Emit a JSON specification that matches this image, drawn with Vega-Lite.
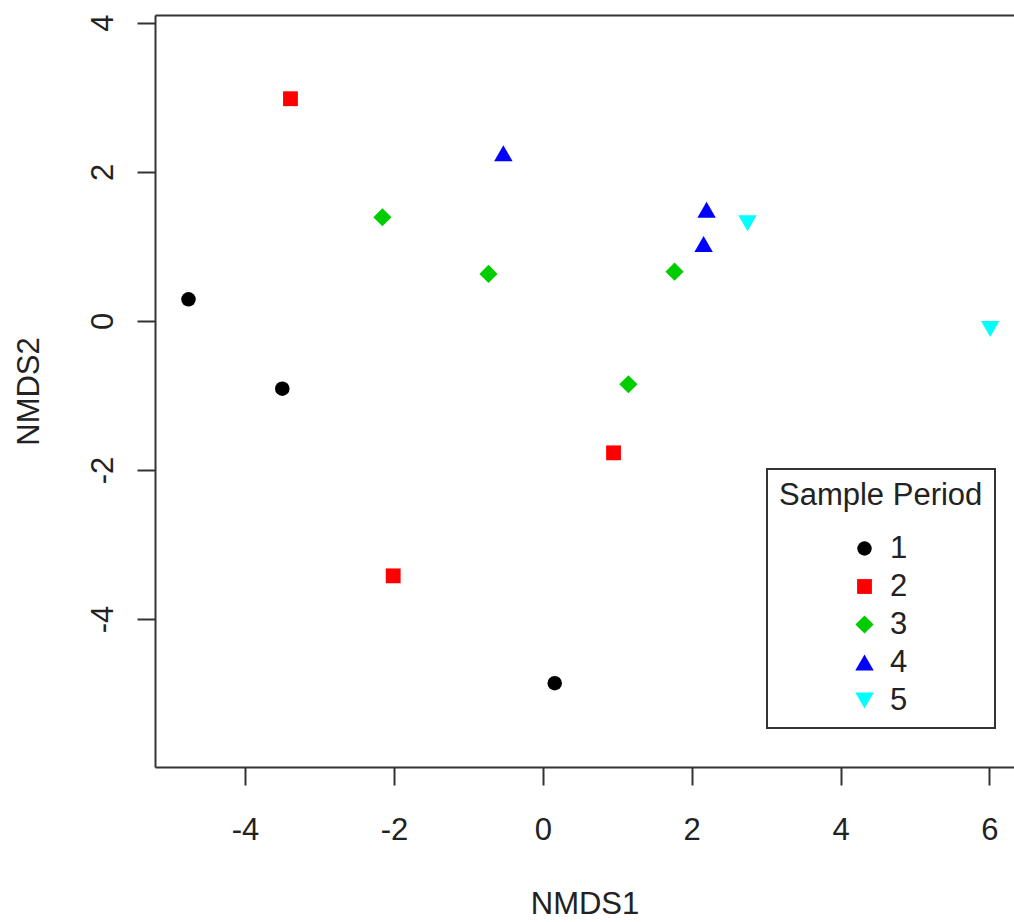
{
  "$schema": "https://vega.github.io/schema/vega-lite/v6.json",
  "width": 859,
  "height": 752,
  "autosize": "none",
  "padding": {"left": 155, "top": 15, "right": 0, "bottom": 155},
  "background": "white",
  "config": {
    "view": {"stroke": null},
    "font": "Liberation Sans",
    "axis": {
      "domainColor": "#333333",
      "domainWidth": 2,
      "tickColor": "#333333",
      "tickWidth": 2,
      "tickSize": 18,
      "grid": false,
      "labelFont": "Liberation Sans",
      "labelFontSize": 31,
      "labelColor": "#222222",
      "titleFont": "Liberation Sans",
      "titleFontSize": 31,
      "titleFontWeight": "normal",
      "titleColor": "#222222"
    },
    "legend": {
      "strokeWidth": 2
    }
  },
  "data": {
    "values": [
      {"NMDS1": -4.76, "NMDS2": 0.29, "period": "1"},
      {"NMDS1": -3.50, "NMDS2": -0.91, "period": "1"},
      {"NMDS1": 0.16, "NMDS2": -4.86, "period": "1"},
      {"NMDS1": -3.39, "NMDS2": 2.98, "period": "2"},
      {"NMDS1": 0.95, "NMDS2": -1.77, "period": "2"},
      {"NMDS1": -2.01, "NMDS2": -3.42, "period": "2"},
      {"NMDS1": -2.155, "NMDS2": 1.39, "period": "3"},
      {"NMDS1": -0.73, "NMDS2": 0.63, "period": "3"},
      {"NMDS1": 1.77, "NMDS2": 0.66, "period": "3"},
      {"NMDS1": 1.15, "NMDS2": -0.85, "period": "3"},
      {"NMDS1": -0.53, "NMDS2": 2.25, "period": "4"},
      {"NMDS1": 2.20, "NMDS2": 1.49, "period": "4"},
      {"NMDS1": 2.16, "NMDS2": 1.03, "period": "4"},
      {"NMDS1": 2.75, "NMDS2": 1.31, "period": "5"},
      {"NMDS1": 6.01, "NMDS2": -0.11, "period": "5"}
    ]
  },
  "layer": [
    {
      "mark": {"type": "point", "filled": true, "opacity": 1, "strokeWidth": 0},
      "encoding": {
        "x": {
          "field": "NMDS1", "type": "quantitative",
          "scale": {"domain": [-5.21, 6.33], "nice": false, "zero": false},
          "axis": {"orient": "bottom", "values": [-4, -2, 0, 2, 4, 6], "labelExpr": "'' + datum.value", "title": "NMDS1", "labelPadding": 30, "titlePadding": 44, "labelFlush": false}
        },
        "y": {
          "field": "NMDS2", "type": "quantitative",
          "scale": {"domain": [-5.984, 4.103], "nice": false, "zero": false},
          "axis": {"orient": "left", "values": [-4, -2, 0, 2, 4], "labelExpr": "'' + datum.value", "title": "NMDS2", "labelAngle": 270, "labelAlign": "center", "labelBaseline": "alphabetic", "labelPadding": 25, "titlePadding": 42, "labelFlush": false}
        },
        "color": {
          "field": "period", "type": "nominal",
          "scale": {"domain": ["1", "2", "3", "4", "5"], "range": ["#000000", "#FF0000", "#00CD00", "#0000FF", "#00FFFF"]},
          "legend": {
            "title": "Sample Period",
            "orient": "none",
            "direction": "vertical",
            "legendX": 612,
            "legendY": 454,
            "strokeColor": "#333333",
            "padding": 12,
            "titleFont": "Liberation Sans",
            "titleFontSize": 31,
            "titleFontWeight": "normal",
            "titleColor": "#222222",
            "titleLimit": 500,
            "titlePadding": 21,
            "labelFont": "Liberation Sans",
            "labelFontSize": 31,
            "labelColor": "#222222",
            "rowPadding": 6,
            "symbolOffset": 70,
            "labelOffset": 10,
            "symbolStrokeWidth": 0,
            "symbolOpacity": 1
          }
        },
        "shape": {
          "field": "period", "type": "nominal",
          "scale": {"domain": ["1", "2", "3", "4", "5"], "range": ["circle", "square", "diamond", "triangle-up", "triangle-down"]},
          "legend": {"title": "Sample Period"}
        },
        "size": {
          "field": "period", "type": "nominal",
          "scale": {"type": "ordinal", "domain": ["1", "2", "3", "4", "5"], "range": [210, 220, 330, 340, 340]},
          "legend": {"title": "Sample Period"}
        }
      }
    },
    {
      "mark": {"type": "point", "opacity": 0},
      "encoding": {
        "x": {
          "field": "NMDS1", "type": "quantitative",
          "axis": {"orient": "top", "labels": false, "ticks": false, "title": null, "domain": true}
        },
        "y": {"field": "NMDS2", "type": "quantitative"}
      }
    }
  ],
  "resolve": {"axis": {"x": "independent"}}
}
